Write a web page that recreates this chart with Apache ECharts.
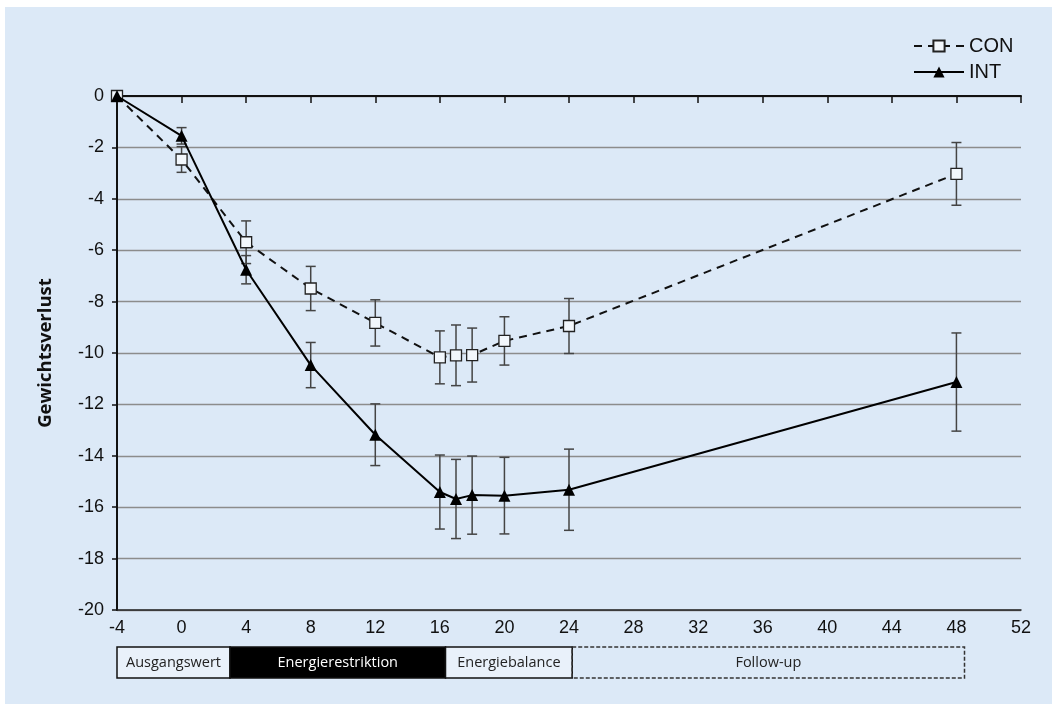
<!DOCTYPE html>
<html><head><meta charset="utf-8">
<script src="https://cdn.jsdelivr.net/npm/echarts@6/dist/echarts.min.js"></script>
<style>
html,body{margin:0;padding:0;background:#fff;width:1052px;height:704px;overflow:hidden}
#bg{position:absolute;left:5px;top:7px;right:0;bottom:0;background:#dce9f7}
#c{position:absolute;left:0;top:0;width:1052px;height:704px}
</style>
</head><body><div id="bg"></div><div id="c"></div>
<script>
// Data
const weeks  = [-4, 0, 4, 8, 12, 16, 17, 18, 20, 24, 48];
const con    = [0, -2.47, -5.69, -7.49, -8.83, -10.17, -10.09, -10.08, -9.53, -8.95, -3.03];
const conErr = [0, 0.50, 0.83, 0.86, 0.90, 1.03, 1.18, 1.05, 0.94, 1.07, 1.22];
const int    = [0, -1.55, -6.76, -10.47, -13.18, -15.41, -15.68, -15.53, -15.55, -15.32, -11.13];
const intErr = [0, 0.32, 0.55, 0.88, 1.20, 1.44, 1.54, 1.52, 1.49, 1.58, 1.91];
const xTicks = [-4, 52, 4];           // min, max, interval
const yTicks = [-20, 0, 2];           // min, max, interval
const phaseNames = ['Ausgangswert', 'Energierestriktion', 'Energiebalance', 'Follow-up'];
const phaseStart = [-4, 3, 16.35, 24.2];
const phaseEnd   = [3, 16.35, 24.2, 48.5];

const chart = echarts.init(document.getElementById('c'), null, {renderer: 'canvas'});
const numFont = 'Liberation Sans';
const txtFont = 'Open Sans';

function errRender(params, api) {
  const x = api.value(0), lo = api.value(1), hi = api.value(2);
  const p1 = api.coord([x, hi]), p2 = api.coord([x, lo]);
  const w = 5;
  const style = {stroke: '#444', lineWidth: 1.5, fill: null};
  return {type: 'group', children: [
    {type: 'line', shape: {x1: p1[0], y1: p1[1], x2: p2[0], y2: p2[1]}, style: style},
    {type: 'line', shape: {x1: p1[0] - w, y1: p1[1], x2: p1[0] + w, y2: p1[1]}, style: style},
    {type: 'line', shape: {x1: p2[0] - w, y1: p2[1], x2: p2[0] + w, y2: p2[1]}, style: style}
  ]};
}
function errData(vals, errs) {
  const out = [];
  weeks.forEach((w, i) => { if (errs[i] > 0) out.push([w, vals[i] - errs[i], vals[i] + errs[i]]); });
  return out;
}
function phaseRender(params, api) {
  const idx = api.value(2);
  const a = api.coord([api.value(0), 1]);
  const b = api.coord([api.value(1), 0]);
  const dark = idx === 1, dashed = idx === 3;
  return {type: 'group', children: [
    {type: 'rect', shape: {x: a[0], y: a[1], width: b[0] - a[0], height: b[1] - a[1]},
     style: {fill: dark ? '#000' : (dashed ? 'rgba(0,0,0,0)' : '#e9f1fa'), stroke: dashed ? '#333' : '#111',
             lineWidth: 1.5, lineDash: dashed ? [4, 2] : null}},
    {type: 'text', x: (a[0] + b[0]) / 2, y: (a[1] + b[1]) / 2,
     style: {text: phaseNames[idx], fill: dark ? '#fff' : '#222', font: '14.5px "Open Sans"',
             align: 'center', verticalAlign: 'middle'}}
  ]};
}

const option = {
  animation: false,
  backgroundColor: 'transparent',
  legend: {
    data: ['CON', 'INT'], orient: 'vertical', left: 908, top: 31,
    itemWidth: 50, itemHeight: 14, itemGap: 6,
    textStyle: {fontFamily: numFont, fontSize: 20, color: '#111'}
  },
  grid: [
    {left: 117, right: 31, top: 96, bottom: 94},
    {left: 117, right: 31, top: 647, height: 31}
  ],
  xAxis: [
    {type: 'value', gridIndex: 0, position: 'bottom', min: xTicks[0], max: xTicks[1], interval: xTicks[2],
     axisLine: {show: true, onZero: false, lineStyle: {color: '#222', width: 1.5}},
     axisTick: {show: false}, splitLine: {show: false},
     axisLabel: {fontFamily: numFont, fontSize: 18, color: '#111', margin: 9}},
    {type: 'value', gridIndex: 0, position: 'top', min: xTicks[0], max: xTicks[1], interval: xTicks[2],
     axisLine: {show: true, onZero: false, lineStyle: {color: '#111', width: 2}},
     axisTick: {show: true, inside: true, length: 7, lineStyle: {color: '#111', width: 1.5}},
     axisLabel: {show: false}, splitLine: {show: false}},
    {type: 'value', gridIndex: 1, min: xTicks[0], max: xTicks[1], show: false}
  ],
  yAxis: [
    {type: 'value', gridIndex: 0, position: 'left', min: yTicks[0], max: yTicks[1], interval: yTicks[2],
     name: 'Gewichtsverlust', nameLocation: 'middle', nameGap: 62,
     nameTextStyle: {fontFamily: txtFont, fontWeight: 'bold', fontSize: 18.5, color: '#111'},
     axisLine: {show: true, onZero: false, lineStyle: {color: '#111', width: 2}},
     axisTick: {show: true, length: 5, lineStyle: {color: '#111', width: 1.5}},
     axisLabel: {fontFamily: numFont, fontSize: 18, color: '#111', margin: 13},
     splitLine: {show: true, lineStyle: {color: '#8c8c8c', width: 1.4}}},
    {type: 'value', gridIndex: 1, min: 0, max: 1, show: false}
  ],
  series: [
    {type: 'custom', name: 'conErr', xAxisIndex: 0, yAxisIndex: 0, renderItem: errRender,
     data: errData(con, conErr), encode: {x: 0, y: [1, 2]}, z: 1, silent: true},
    {type: 'custom', name: 'intErr', xAxisIndex: 0, yAxisIndex: 0, renderItem: errRender,
     data: errData(int, intErr), encode: {x: 0, y: [1, 2]}, z: 1, silent: true},
    {type: 'line', name: 'CON', xAxisIndex: 0, yAxisIndex: 0, z: 3,
     data: weeks.map((w, i) => [w, con[i]]),
     symbol: 'rect', symbolSize: 11, showAllSymbol: true,
     lineStyle: {color: '#111', width: 2, type: [8, 6]},
     itemStyle: {color: '#f2f7fc', borderColor: '#222', borderWidth: 1.3}},
    {type: 'line', name: 'INT', xAxisIndex: 0, yAxisIndex: 0, z: 4,
     data: weeks.map((w, i) => [w, int[i]]),
     symbol: 'triangle', symbolSize: 12, showAllSymbol: true,
     lineStyle: {color: '#000', width: 2},
     itemStyle: {color: '#000', borderColor: '#000', borderWidth: 0}},
    {type: 'custom', name: 'phases', xAxisIndex: 2, yAxisIndex: 1, renderItem: phaseRender,
     data: phaseStart.map((s, i) => [s, phaseEnd[i], i]), encode: {x: [0, 1]}, clip: false, silent: true}
  ]
};
chart.setOption(option);
</script>
</body></html>
